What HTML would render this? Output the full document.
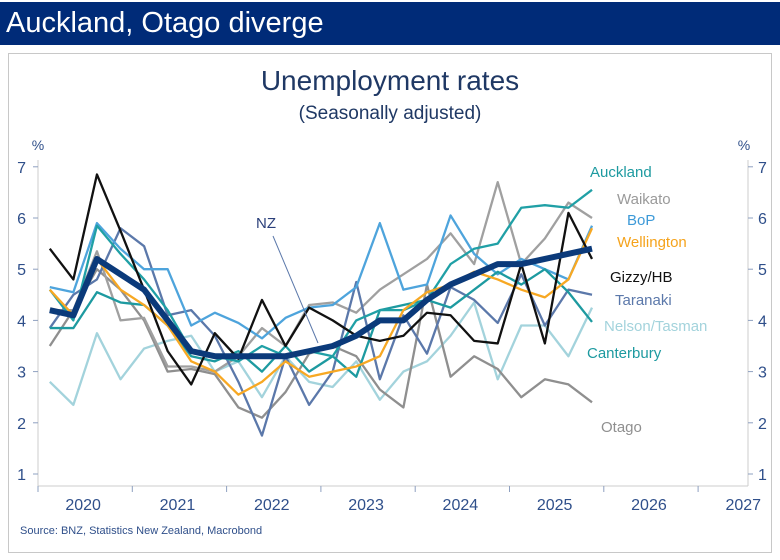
<!DOCTYPE html>
<html><head><meta charset="utf-8"><style>
body{margin:0;width:780px;height:560px;background:#fff;position:relative;overflow:hidden;font-family:"Liberation Sans",sans-serif}
#hdr{position:absolute;left:0;top:2px;width:780px;height:43px;background:#002b78;color:#fff;font-size:29px;line-height:43px;padding-left:6px;box-sizing:border-box}
#box{position:absolute;left:8px;top:53px;width:764px;height:500px;border:1px solid #c8c8c8;box-sizing:border-box}
svg{position:absolute;left:0;top:0}
</style></head><body>
<div id="hdr">Auckland, Otago diverge</div>
<div id="box"></div>
<svg id="c" width="780" height="560"></svg>
<script>
const years=["2020","2021","2022","2023","2024","2025","2026","2027"];
const yTicks=[1,2,3,4,5,6,7];
const nz=[4.2,4.1,5.2,4.9,4.6,4.0,3.4,3.3,3.3,3.3,3.3,3.4,3.5,3.7,4.0,4.0,4.4,4.7,4.9,5.1,5.1,5.2,5.3,5.4];
const gizzy=[5.4,4.8,6.85,5.75,4.6,3.4,2.75,3.75,3.25,4.4,3.5,4.25,4.0,3.7,3.6,3.7,4.15,4.1,3.6,3.55,5.1,3.55,6.1,5.2];
const auckland=[4.6,4.0,5.85,5.3,4.8,4.2,3.4,3.3,3.2,3.5,3.3,3.4,3.3,4.0,4.2,4.2,4.4,5.1,5.4,5.5,6.2,6.25,6.2,6.55];
const canterbury=[3.85,3.85,4.55,4.35,4.3,3.9,3.3,3.2,3.4,3.0,3.5,3.0,3.3,2.9,4.2,4.3,4.4,4.25,4.6,4.95,4.7,5.0,4.55,3.97];
const wellington=[4.6,4.1,5.2,4.6,4.3,3.9,3.2,3.0,2.55,2.8,3.2,2.9,3.0,3.1,3.3,4.2,4.55,4.7,4.95,4.8,4.6,4.45,4.8,5.8];
const bop=[4.65,4.55,5.9,5.4,5.0,5.0,3.9,4.15,3.95,3.65,4.05,4.25,4.3,4.65,5.9,4.6,4.7,6.05,5.3,4.9,5.2,5.0,4.8,5.85];
const taranaki=[3.85,4.5,4.8,5.8,5.45,4.1,4.2,3.7,2.8,1.75,3.3,2.35,3.0,4.75,2.85,4.1,3.35,4.65,4.4,3.95,4.9,3.9,4.6,4.5];
const waikato=[4.2,4.2,5.35,4.0,4.05,3.1,3.1,3.0,3.3,3.85,3.5,4.3,4.35,4.15,4.6,4.9,5.2,5.7,5.1,6.7,5.1,5.6,6.3,6.0];
const otago=[3.5,4.2,5.0,4.6,4.0,3.0,3.05,2.95,2.3,2.1,2.6,3.35,3.5,3.3,2.65,2.3,4.7,2.9,3.3,3.05,2.5,2.85,2.75,2.4];
const nelson=[2.8,2.35,3.75,2.85,3.45,3.6,3.7,3.0,3.2,2.5,3.3,2.8,2.7,3.2,2.45,3.0,3.2,3.7,4.35,2.85,3.9,3.9,3.3,4.25];

const svg=document.getElementById('c');const NS="http://www.w3.org/2000/svg";
const X0=38,X1=748,YW=94.3;
const x=i=>X0+(i+0.5)*YW/4;
const y=v=>474-(v-1)*51.2;
function el(t,a,txt){const e=document.createElementNS(NS,t);for(const k in a)e.setAttribute(k,a[k]);if(txt!==undefined)e.textContent=txt;svg.appendChild(e);return e;}
const ax="#2f4f8a";
let e;
e=el('text',{x:390,y:90,'text-anchor':'middle','font-size':28,fill:'#1f3864'},'Unemployment rates');


e=el('text',{x:390,y:119,'text-anchor':'middle','font-size':19,fill:'#1f3864'},'(Seasonally adjusted)');


el('line',{x1:X0,y1:160,x2:X0,y2:486,stroke:'#ccc'});
el('line',{x1:X1,y1:160,x2:X1,y2:486,stroke:'#ccc'});
el('line',{x1:X0,y1:486,x2:X1,y2:486,stroke:'#ccc'});
e=el('text',{x:38,y:150,'text-anchor':'middle','font-size':14,fill:ax},'%');


e=el('text',{x:744,y:150,'text-anchor':'middle','font-size':14,fill:ax},'%');


yTicks.forEach(t=>{
 el('line',{x1:X0-5,y1:y(t),x2:X0,y2:y(t),stroke:'#8ea0c0'});
 el('line',{x1:X1,y1:y(t),x2:X1+5,y2:y(t),stroke:'#8ea0c0'});
 e=el('text',{x:26,y:y(t)+6,'text-anchor':'end','font-size':16,fill:ax},t);
 
 
 e=el('text',{x:758,y:y(t)+6,'text-anchor':'start','font-size':16,fill:ax},t);
 
 
});
years.forEach((yr,i)=>{
 el('line',{x1:X0+i*YW,y1:486,x2:X0+i*YW,y2:492,stroke:'#8ea0c0'});
 e=el('text',{x:X0+(i+0.5)*YW-2,y:510,'text-anchor':'middle','font-size':16,fill:ax},yr);
 
 
});
function line(d,c,w,name){
 const p=el('polyline',{points:d.map((v,i)=>x(i)+','+y(v)).join(' '),fill:'none',stroke:c,'stroke-width':w,'stroke-linejoin':'round'});
 
 
}
line(nelson,'#a3d3dc',2.3,'line-nelson-tasman');
line(otago,'#8f8f8f',2.3,'line-otago');
line(waikato,'#a0a0a0',2.3,'line-waikato');
line(taranaki,'#5b78aa',2.3,'line-taranaki');
line(bop,'#4ea4dc',2.3,'line-bop');
line(canterbury,'#1d9aa0',2.3,'line-canterbury');
line(auckland,'#20a0a6',2.3,'line-auckland');
line(wellington,'#f7a823',2.3,'line-wellington');
line(gizzy,'#111',2.3,'line-gizzy-hb');
line(nz,'#0b3a7a',6,'line-nz');
el('line',{x1:273,y1:236,x2:318,y2:343,stroke:'#5b78aa','stroke-width':1});
const labels=[["NZ",266,228,'#2a3f7a','middle'],["Auckland",590,177,'#1d9aa0','start'],["Waikato",617,204,'#9a9a9a','start'],["BoP",627,225,'#3d9ad8','start'],["Wellington",617,247,'#f5a31c','start'],["Gizzy/HB",610,282,'#111','start'],["Taranaki",615,305,'#5b78aa','start'],["Nelson/Tasman",604,331,'#a3d3dc','start'],["Canterbury",587,358,'#1d9aa0','start'],["Otago",601,432,'#8f8f8f','start']];
labels.forEach(l=>{
 e=el('text',{x:l[1],y:l[2],'text-anchor':l[4],'font-size':15,fill:l[3]},l[0]);
 
 
});
e=el('text',{x:20,y:534,'font-size':11,fill:'#2f4f8a'},'Source: BNZ, Statistics New Zealand, Macrobond');


</script>
</body></html>
